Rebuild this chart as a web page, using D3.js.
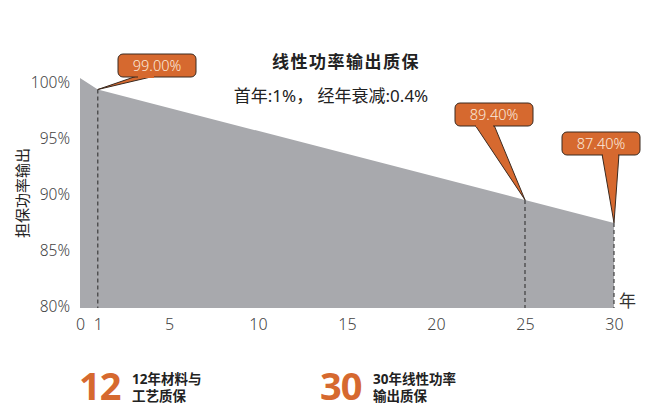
<!DOCTYPE html>
<html>
<head>
<meta charset="utf-8">
<script src="https://cdn.jsdelivr.net/npm/d3@7/dist/d3.min.js"></script>
<style>
  body { margin: 0; background: #fff; }
  svg { display: block; font-family: "Noto Sans", "Noto Sans CJK SC", sans-serif; }
</style>
</head>
<body>
<div id="container"></div>
<script>
var width = 645,
    height = 411;

// data
var years = [0, 1, 25, 30];
var output = [100, 99, 89.4, 87.4];
var xTicks = [0, 1, 5, 10, 15, 20, 25, 30];
var yTicks = [80, 85, 90, 95, 100];
var marked = [1, 25, 30];
var markLabels = ["99.00%", "89.40%", "87.40%"];

var svg = d3.select("#container").append("svg")
    .attr("width", width)
    .attr("height", height);

var x = d3.scaleLinear().domain([0, 30]).range([80, 614]);
var y = d3.scaleLinear().domain([80, 100]).range([308, 78]);
// tick labels in the picture sit on an evenly spaced grid
var yLab = d3.scaleLinear().domain([80, 100]).range([307, 83]);

var pts = years.map((d, i) => ({ year: d, val: output[i] }));

var area = d3.area()
    .x(d => x(d.year))
    .y0(y(80))
    .y1(d => y(d.val));

svg.append("path")
    .datum(pts)
    .attr("d", area)
    .attr("fill", "#a8a9ad");

// dashed drop lines
marked.forEach(function (yr) {
    let p = pts.find(d => d.year == yr);
    svg.append("line")
        .attr("x1", x(yr)).attr("x2", x(yr))
        .attr("y1", y(p.val)).attr("y2", y(80))
        .attr("stroke", "#333")
        .attr("stroke-width", 1.1)
        .attr("stroke-dasharray", "4,3");
});

// axes (labels only)
var xAxis = d3.axisBottom(x).tickValues(xTicks).tickSize(0).tickPadding(0);
var gx = svg.append("g").attr("transform", "translate(0,319)").call(xAxis);
gx.select(".domain").remove();
gx.selectAll("text")
    .attr("font-size", 16)
    .attr("fill", "#444")
    .attr("font-weight", 300)
    .attr("font-family", "Noto Sans, sans-serif")
    .attr("dy", "0.71em");

var yAxis = d3.axisLeft(yLab).tickValues(yTicks).tickSize(0).tickPadding(0)
    .tickFormat(d => d + "%");
var gy = svg.append("g").attr("transform", "translate(70,0)").call(yAxis);
gy.select(".domain").remove();
gy.selectAll("text")
    .attr("font-size", 15.5)
    .attr("fill", "#444")
    .attr("font-weight", 300)
    .attr("font-family", "Noto Sans, sans-serif");

svg.append("text")
    .attr("transform", "translate(28,193) rotate(-90)")
    .attr("text-anchor", "middle")
    .attr("font-size", 15)
    .attr("fill", "#222")
    .text("担保功率输出");

svg.append("text")
    .attr("x", 619).attr("y", 307)
    .attr("font-size", 17)
    .attr("fill", "#333")
    .text("年");

// titles
svg.append("text")
    .attr("x", 346).attr("y", 68)
    .attr("text-anchor", "middle")
    .attr("font-size", 17)
    .attr("font-weight", "bold")
    .attr("letter-spacing", 1.5)
    .attr("fill", "#222")
    .text("线性功率输出质保");

svg.append("text")
    .attr("x", 331).attr("y", 102)
    .attr("text-anchor", "middle")
    .attr("font-size", 17)
    .attr("fill", "#222")
    .text("首年:1%， 经年衰减:0.4%");

// callouts: box left, box top, tail left, tail right (relative to box)
var boxes = [
    { bx: 118, by: 54, t0: 19, t1: 37 },
    { bx: 455, by: 103, t0: 20, t1: 39 },
    { bx: 562, by: 132, t0: 40, t1: 57 }
];
var bw = 78, bh = 23, orange = "#d6692f";

boxes.forEach(function (b, i) {
    let yr = marked[i];
    let p = pts.find(d => d.year == yr);
    let px = x(yr), py = y(p.val);
    let g = svg.append("g");
    g.append("path")
        .attr("d", "M" + (b.bx + b.t0) + "," + (b.by + bh - 1) +
            "L" + px + "," + py +
            "L" + (b.bx + b.t1) + "," + (b.by + bh - 1) + "Z")
        .attr("fill", orange)
        .attr("stroke", "#3a2a20")
        .attr("stroke-width", 1)
        .attr("stroke-linejoin", "round");
    g.append("rect")
        .attr("x", b.bx).attr("y", b.by)
        .attr("width", bw).attr("height", bh)
        .attr("rx", 5)
        .attr("fill", orange)
        .attr("stroke", "#3a2a20")
        .attr("stroke-width", 1);
    // cover the seam between tail and box
    g.append("rect")
        .attr("x", b.bx + b.t0 + 1).attr("y", b.by + bh - 2)
        .attr("width", b.t1 - b.t0 - 2).attr("height", 3)
        .attr("fill", orange);
    g.append("text")
        .attr("x", b.bx + bw / 2).attr("y", b.by + bh / 2)
        .attr("dy", "0.36em")
        .attr("text-anchor", "middle")
        .attr("font-size", 14.5)
        .attr("font-weight", 300)
        .attr("fill", "#fbe9dc")
        .text(markLabels[i]);
});

// bottom badges
var badgeNums = ["12", "30"];
var badgeLines = [["12年材料与", "工艺质保"], ["30年线性功率", "输出质保"]];
var badgeX = [79, 320];

badgeNums.forEach(function (n, i) {
    svg.append("text")
        .attr("x", badgeX[i]).attr("y", 400)
        .attr("font-size", 38)
        .attr("font-weight", "bold")
        .attr("letter-spacing", -1)
        .attr("fill", orange)
        .text(n);
    badgeLines[i].forEach(function (t, j) {
        svg.append("text")
            .attr("x", badgeX[i] + 53).attr("y", 384 + j * 17)
            .attr("font-size", 13.5)
            .attr("font-weight", "bold")
            .attr("fill", "#222")
            .text(t);
    });
});
</script>
</body>
</html>
